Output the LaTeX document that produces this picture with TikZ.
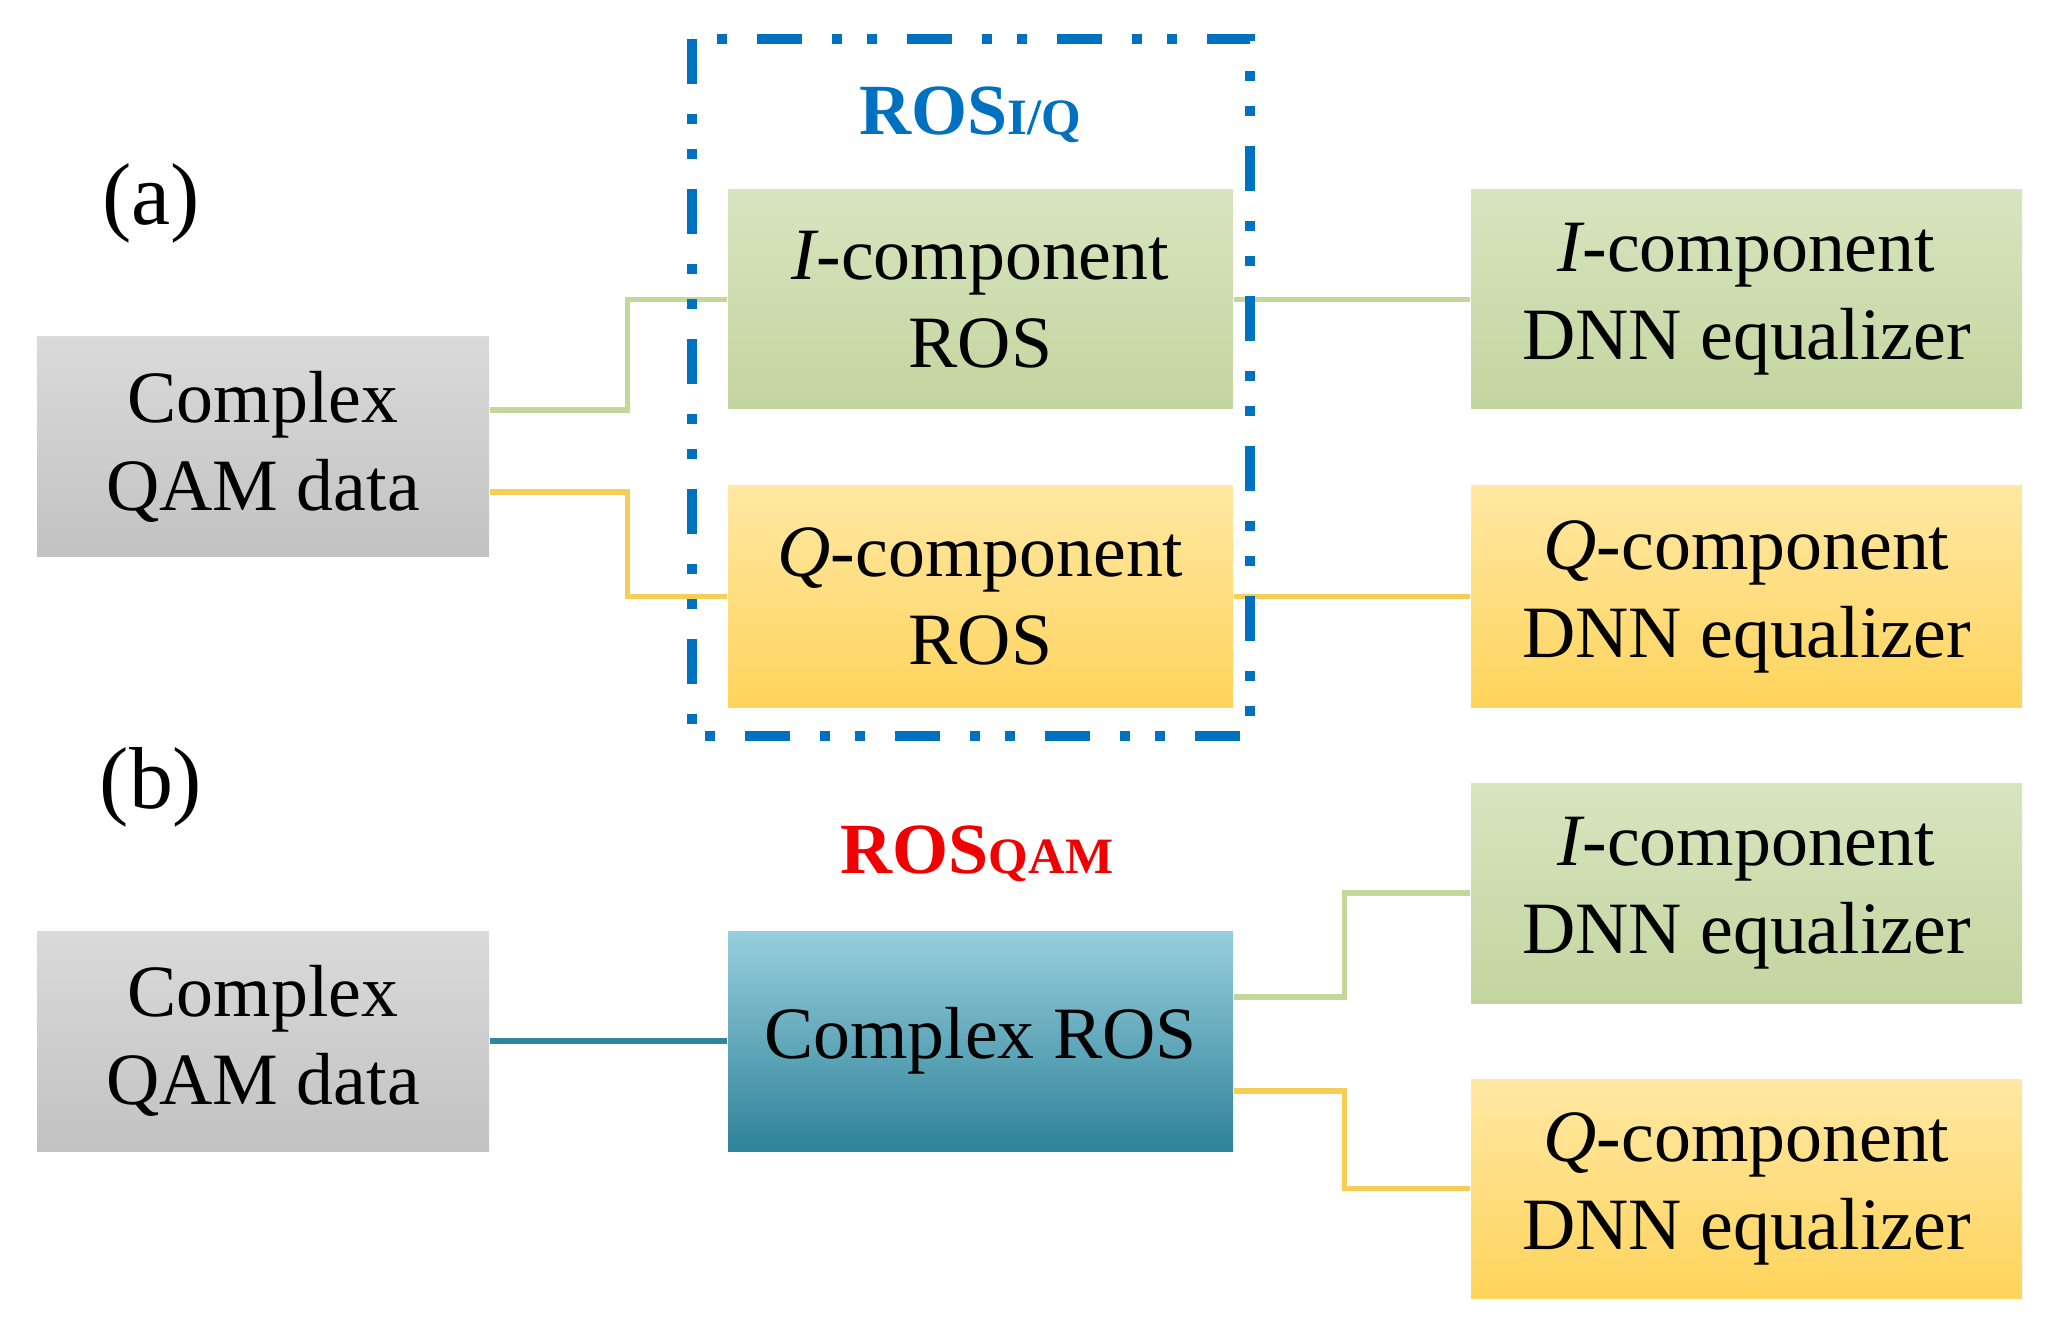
\documentclass[tikz,border=0pt]{standalone}
\usepackage{fontspec}
\setmainfont{Liberation Serif}
\usetikzlibrary{arrows.meta}

\begin{document}
\begin{tikzpicture}[box/.style={
      draw=none,
      align=center,
      inner sep=0pt,
      font=\fontsize{21}{25}\selectfont
    },
    wire/.style={line width=1.5pt}]

\definecolor{gtop}{RGB}{218,218,218}
\definecolor{gbot}{RGB}{194,194,194}
\definecolor{ltop}{RGB}{216,228,191}
\definecolor{lbot}{RGB}{195,213,159}
\definecolor{ytop}{RGB}{255,232,163}
\definecolor{ybot}{RGB}{255,212,92}
\definecolor{ttop}{RGB}{150,207,222}
\definecolor{tbot}{RGB}{47,130,152}
\definecolor{lwire}{RGB}{196,215,155}
\definecolor{ywire}{RGB}{247,206,85}
\definecolor{twire}{RGB}{49,133,156}
\definecolor{dblue}{RGB}{0,112,192}
\definecolor{dred}{RGB}{240,0,0}

\useasboundingbox (0,0) rectangle (20.56,-13.23);

\node[font=\fontsize{25}{29}\selectfont] (la) at (1.51,-2.03) {(a)};
\node[font=\fontsize{25}{29}\selectfont] (lb) at (1.51,-7.87) {(b)};

\node[box,top color=gtop,bottom color=gbot,minimum width=4.52cm,minimum height=2.2cm] (qamA) at (2.63,-4.47) {Complex\\QAM data};
\node[box,top color=ltop,bottom color=lbot,minimum width=5.05cm,minimum height=2.19cm] (rosI) at (9.805,-2.995) {{\itshape I}-component\\ROS};
\node[box,top color=ytop,bottom color=ybot,minimum width=5.05cm,minimum height=2.21cm] (rosQ) at (9.805,-5.965) {{\itshape Q}-component\\ROS};
\node[box,top color=ltop,bottom color=lbot,minimum width=5.51cm,minimum height=2.19cm] (dnnIa) at (17.465,-2.995) {{\itshape I}-component\\DNN equalizer};
\node[box,top color=ytop,bottom color=ybot,minimum width=5.51cm,minimum height=2.21cm] (dnnQa) at (17.465,-5.965) {{\itshape Q}-component\\DNN equalizer};

\node[box,top color=gtop,bottom color=gbot,minimum width=4.52cm,minimum height=2.2cm] (qamB) at (2.63,-10.41) {Complex\\QAM data};
\node[box,top color=ttop,bottom color=tbot,minimum width=5.05cm,minimum height=2.2cm] (cros) at (9.805,-10.41) {Complex ROS};
\node[box,top color=ltop,bottom color=lbot,minimum width=5.51cm,minimum height=2.2cm] (dnnIb) at (17.465,-8.93) {{\itshape I}-component\\DNN equalizer};
\node[box,top color=ytop,bottom color=ybot,minimum width=5.51cm,minimum height=2.19cm] (dnnQb) at (17.465,-11.885) {{\itshape Q}-component\\DNN equalizer};

\node[dblue,font=\bfseries] (tiq) at (9.70,-1.15) {\fontsize{20.5}{24}\selectfont ROS\fontsize{14.5}{17}\selectfont I/Q};
\node[dred,font=\bfseries] (tqam) at (9.77,-8.54) {\fontsize{20.5}{24}\selectfont ROS\fontsize{14.5}{17}\selectfont QAM};

\draw[wire,lwire] ([yshift=3.7mm]qamA.east) -- ++(1.38,0) |- (rosI.west);
\draw[wire,ywire] ([yshift=-4.5mm]qamA.east) -- ++(1.38,0) |- (rosQ.west);
\draw[wire,lwire] (rosI.east) -- (dnnIa.west);
\draw[wire,ywire] (rosQ.east) -- (dnnQa.west);

\draw[wire,twire] (qamB.east) -- (cros.west);
\draw[wire,lwire] ([yshift=4.4mm]cros.east) -- ++(1.11,0) |- (dnnIb.west);
\draw[wire,ywire] ([yshift=-5mm]cros.east) -- ++(1.11,0) |- (dnnQb.west);

\draw[dblue,line width=3pt,dash pattern=on 4.5mm off 3mm on 1mm off 2.5mm on 1mm off 3mm] (6.92,-0.39) rectangle (12.50,-7.36);

\end{tikzpicture}
\end{document}
